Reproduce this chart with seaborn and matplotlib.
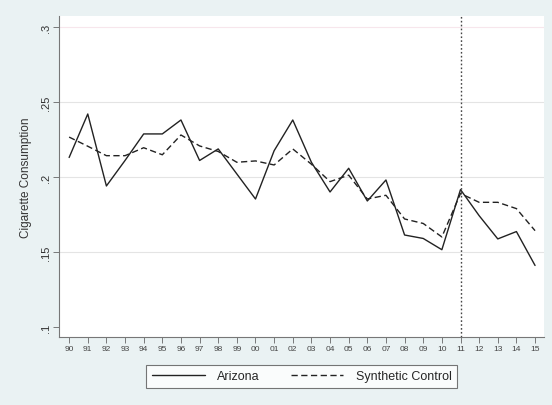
import numpy as np
import pandas as pd
import matplotlib.pyplot as plt
import seaborn as sns
from matplotlib.lines import Line2D

years = ['90', '91', '92', '93', '94', '95', '96', '97', '98', '99', '00', '01', '02',
         '03', '04', '05', '06', '07', '08', '09', '10', '11', '12', '13', '14', '15']
arizona = [0.213, 0.242, 0.194, 0.211, 0.2287, 0.2287, 0.238, 0.211, 0.2187, 0.202, 0.1853,
           0.2175, 0.238, 0.2098, 0.190, 0.2058, 0.184, 0.198, 0.1613, 0.159, 0.1515,
           0.1916, 0.1742, 0.1587, 0.1636, 0.141]
synthetic = [0.2266, 0.2205, 0.2142, 0.2142, 0.2195, 0.2148, 0.228, 0.2207, 0.217, 0.2098,
             0.2107, 0.2080, 0.2187, 0.2085, 0.1969, 0.2012, 0.1853, 0.1878, 0.172, 0.169,
             0.160, 0.189, 0.1831, 0.1831, 0.1789, 0.1642]
y_ticks = [0.1, 0.15, 0.2, 0.25, 0.3]
y_labels = ['.1', '.15', '.2', '.25', '.3']
treat_year = '11'

df = pd.DataFrame({
    't': list(range(len(years))) * 2,
    'value': arizona + synthetic,
    'series': ['Arizona'] * len(years) + ['Synthetic Control'] * len(years),
})

sns.set_style('white')
plt.rcParams['font.family'] = ['Liberation Sans', 'DejaVu Sans']

bg = '#eaf2f3'
dash = (4.5, 2.5)
fig = plt.figure(figsize=(5.52, 4.06), dpi=100, facecolor=bg)
ax = fig.add_axes([0.107, 0.1675, 0.8785, 0.7905])
ax.set_facecolor('white')

# stata-ish horizontal grid
for yv in y_ticks[1:]:
    ax.axhline(yv, color='#f7e6ec' if yv == 0.3 else '#e4e4e4', lw=0.8, zorder=0)

sns.lineplot(data=df, x='t', y='value', style='series',
             dashes={'Arizona': '', 'Synthetic Control': dash},
             color='#222222', linewidth=1.0, legend=False, ax=ax)

ax.axvline(years.index(treat_year), color='#444444', lw=1.0, ls=(0, (1.2, 1.6)))

ax.set_xlim(-0.54, 25.48)
ax.set_ylim(0.0933, 0.3073)
ax.set_xticks(range(len(years)))
ax.set_xticklabels(years, fontsize=6, color='#444444')
ax.set_yticks(y_ticks)
ax.set_yticklabels(y_labels, fontsize=8, rotation=90, va='center', color='#333333')
ax.tick_params(axis='both', direction='out', length=4, width=0.6, color='#666666', pad=2,
               bottom=True, left=True)
ax.set_xlabel('')
ax.set_ylabel('Cigarette Consumption', fontsize=8.5, color='#333333', labelpad=6)

for s in ['top', 'right']:
    ax.spines[s].set_visible(False)
for s in ['left', 'bottom']:
    ax.spines[s].set_color('#777777')
    ax.spines[s].set_linewidth(0.8)

handles = [Line2D([], [], color='#222222', lw=1.0),
           Line2D([], [], color='#222222', lw=1.0, dashes=dash)]
leg = fig.legend(handles, ['Arizona', 'Synthetic Control'], loc='center',
                 bbox_to_anchor=(0.547, 0.0705), ncol=2, fontsize=9,
                 frameon=True, fancybox=False, handlelength=4.2, columnspacing=2.5,
                 borderpad=0.45, handletextpad=1.0)
leg.get_frame().set_edgecolor('#555555')
leg.get_frame().set_linewidth(0.8)
leg.get_frame().set_facecolor('white')

fig.savefig('out.png', dpi=100, facecolor=bg)
